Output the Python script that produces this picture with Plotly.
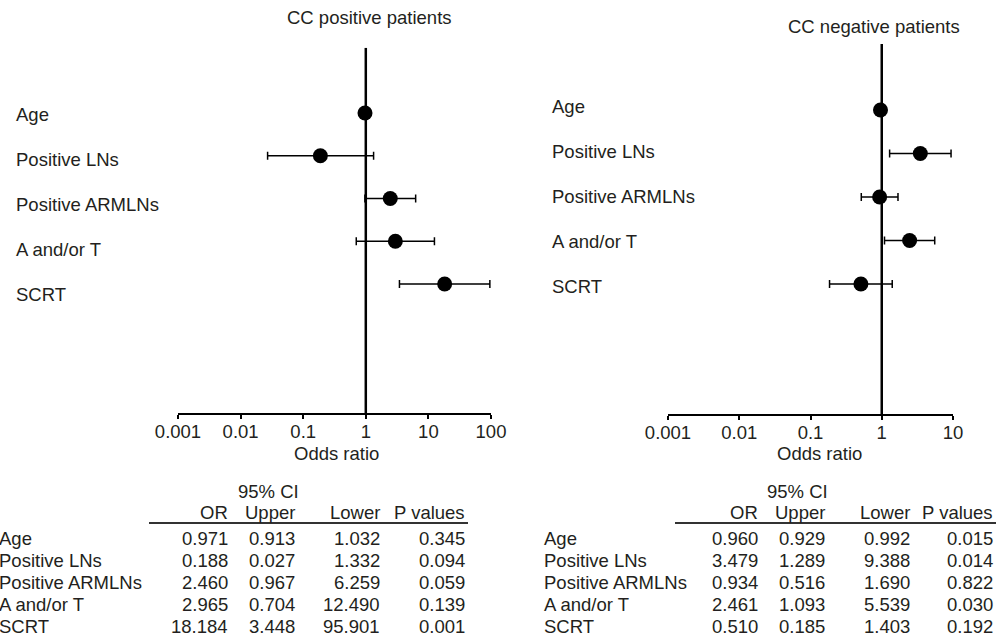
import plotly.graph_objects as go

# ---------------- data ----------------
categories = ["Age", "Positive LNs", "Positive ARMLNs", "A and/or T", "SCRT"]

pos_or = [0.971, 0.188, 2.460, 2.965, 18.184]
pos_upper = [0.913, 0.027, 0.967, 0.704, 3.448]
pos_lower = [1.032, 1.332, 6.259, 12.490, 95.901]
pos_p = [0.345, 0.094, 0.059, 0.139, 0.001]

neg_or = [0.960, 3.479, 0.934, 2.461, 0.510]
neg_upper = [0.929, 1.289, 0.516, 1.093, 0.185]
neg_lower = [0.992, 9.388, 1.690, 5.539, 1.403]
neg_p = [0.015, 0.014, 0.822, 0.030, 0.192]

tick_vals_pos = [0.001, 0.01, 0.1, 1, 10, 100]
tick_text_pos = ["0.001", "0.01", "0.1", "1", "10", "100"]
tick_vals_neg = [0.001, 0.01, 0.1, 1, 10]
tick_text_neg = ["0.001", "0.01", "0.1", "1", "10"]

titles = ["CC positive patients", "CC negative patients"]
col_headers = ["OR", "Upper", "Lower", "P values"]
ci_header = "95% CI"
x_title = "Odds ratio"

# ---------------- layout helpers ----------------
W, H = 998, 637
FONT = "Liberation Sans, Arial, Helvetica, sans-serif"
TXT = "#231f20"
FS = 18.5


def px(x):
    return x / W


def py(y):
    return 1 - y / H


rows = list(range(len(categories)))

fig = go.Figure()

# panel geometry (pixels)
panels = [
    dict(orv=pos_or, lo=pos_upper, hi=pos_lower, xa="x", ya="y",
         x0=178, x1=491, top=47.7, bot=413, row0=113, rowstep=42.75,
         lab_x=14, lab_y0=114, lab_step=45.2, title_x=369, title_y=18,
         tv=tick_vals_pos, tt=tick_text_pos, rng=[-3, 2], xt_x=336),
    dict(orv=neg_or, lo=neg_upper, hi=neg_lower, xa="x2", ya="y2",
         x0=668, x1=953, top=44, bot=414, row0=110, rowstep=43.5,
         lab_x=550, lab_y0=106.5, lab_step=45, title_x=874, title_y=27,
         tv=tick_vals_neg, tt=tick_text_neg, rng=[-3, 1], xt_x=819),
]

annotations = []
for i, p in enumerate(panels):
    ytop = -(p["row0"] - p["top"]) / p["rowstep"]
    ybot = (len(rows) - 1) + (p["bot"] - (p["row0"] + (len(rows) - 1) * p["rowstep"])) / p["rowstep"]
    p["yr"] = [ybot, ytop]

    # reference line at OR = 1
    fig.add_trace(go.Scatter(x=[1, 1], y=[ytop, ybot], mode="lines",
                             line=dict(color="black", width=2.5),
                             xaxis=p["xa"], yaxis=p["ya"], showlegend=False,
                             hoverinfo="skip"))
    plus = [h - o for h, o in zip(p["hi"], p["orv"])]
    minus = [o - l for o, l in zip(p["orv"], p["lo"])]
    fig.add_trace(go.Scatter(
        x=p["orv"], y=rows, mode="markers",
        marker=dict(color="black", size=15),
        error_x=dict(type="data", symmetric=False, array=plus, arrayminus=minus,
                     color="black", thickness=1.5, width=4),
        xaxis=p["xa"], yaxis=p["ya"], showlegend=False, cliponaxis=False))

    for r, c in enumerate(categories):
        annotations.append(dict(x=px(p["lab_x"]), y=py(p["lab_y0"] + r * p["lab_step"]),
                                xref="paper", yref="paper", text=c, showarrow=False,
                                xanchor="left", yanchor="middle",
                                font=dict(size=FS, color=TXT, family=FONT)))
    annotations.append(dict(x=px(p["title_x"]), y=py(p["title_y"]), xref="paper", yref="paper",
                            text=titles[i], showarrow=False, xanchor="center", yanchor="middle",
                            font=dict(size=FS, color=TXT, family=FONT)))
    annotations.append(dict(x=px(p["xt_x"]), y=py(453.5), xref="paper", yref="paper",
                            text=x_title, showarrow=False, xanchor="center", yanchor="middle",
                            font=dict(size=FS, color=TXT, family=FONT)))

axis_common = dict(type="log", showgrid=False, zeroline=False, showline=True,
                   linecolor="black", linewidth=2, ticks="outside", ticklen=4,
                   tickwidth=2, tickcolor="black", automargin=False,
                   ticklabelstandoff=-3,
                   tickfont=dict(size=FS, color=TXT, family=FONT), fixedrange=True)

fig.update_layout(
    template="none",
    xaxis=dict(domain=[px(panels[0]["x0"]), px(panels[0]["x1"])], range=panels[0]["rng"],
               tickvals=panels[0]["tv"], ticktext=panels[0]["tt"], anchor="y", **axis_common),
    yaxis=dict(domain=[py(panels[0]["bot"]), py(panels[0]["top"])], range=panels[0]["yr"],
               visible=False, anchor="x", automargin=False),
    xaxis2=dict(domain=[px(panels[1]["x0"]), px(panels[1]["x1"])], range=panels[1]["rng"],
                tickvals=panels[1]["tv"], ticktext=panels[1]["tt"], anchor="y2", **axis_common),
    yaxis2=dict(domain=[py(panels[1]["bot"]), py(panels[1]["top"])], range=panels[1]["yr"],
                visible=False, anchor="x2", automargin=False),
)

# ---------------- tables ----------------
tables = [
    dict(vals=[pos_or, pos_upper, pos_lower, pos_p], lab_x=-3,
         col_right=[230, 297, 382, 467], ci_x=268, line=[149, 468]),
    dict(vals=[neg_or, neg_upper, neg_lower, neg_p], lab_x=542,
         col_right=[760, 827, 912, 995], ci_x=797, line=[675, 996]),
]
row_y0, row_step = 538.5, 21.9
header_y, ci_y, line_y = 512, 492, 523

shapes = []
for t in tables:
    annotations.append(dict(x=px(t["ci_x"]), y=py(ci_y), xref="paper", yref="paper",
                            text=ci_header, showarrow=False, xanchor="center", yanchor="middle",
                            font=dict(size=FS, color=TXT, family=FONT)))
    for h, xr in zip(col_headers, t["col_right"]):
        annotations.append(dict(x=px(xr), y=py(header_y), xref="paper", yref="paper",
                                text=h, showarrow=False, xanchor="right", yanchor="middle",
                                font=dict(size=FS, color=TXT, family=FONT)))
    shapes.append(dict(type="line", xref="paper", yref="paper",
                       x0=px(t["line"][0]), x1=px(t["line"][1]), y0=py(line_y), y1=py(line_y),
                       line=dict(color="#333", width=1.8)))
    for r, c in enumerate(categories):
        y = py(row_y0 + r * row_step)
        annotations.append(dict(x=px(t["lab_x"]), y=y, xref="paper", yref="paper",
                                text=c, showarrow=False, xanchor="left", yanchor="middle",
                                font=dict(size=FS, color=TXT, family=FONT)))
        for col, xr in zip(t["vals"], t["col_right"]):
            annotations.append(dict(x=px(xr), y=y, xref="paper", yref="paper",
                                    text=f"{col[r]:.3f}", showarrow=False, xanchor="right",
                                    yanchor="middle",
                                    font=dict(size=FS, color=TXT, family=FONT)))

fig.update_layout(
    width=W, height=H, margin=dict(l=0, r=0, t=0, b=0, pad=0, autoexpand=False),
    paper_bgcolor="white", plot_bgcolor="white",
    annotations=annotations, shapes=shapes, showlegend=False,
    font=dict(family=FONT, color=TXT, size=FS),
)

fig.write_html("out.html", config={"displayModeBar": False})
